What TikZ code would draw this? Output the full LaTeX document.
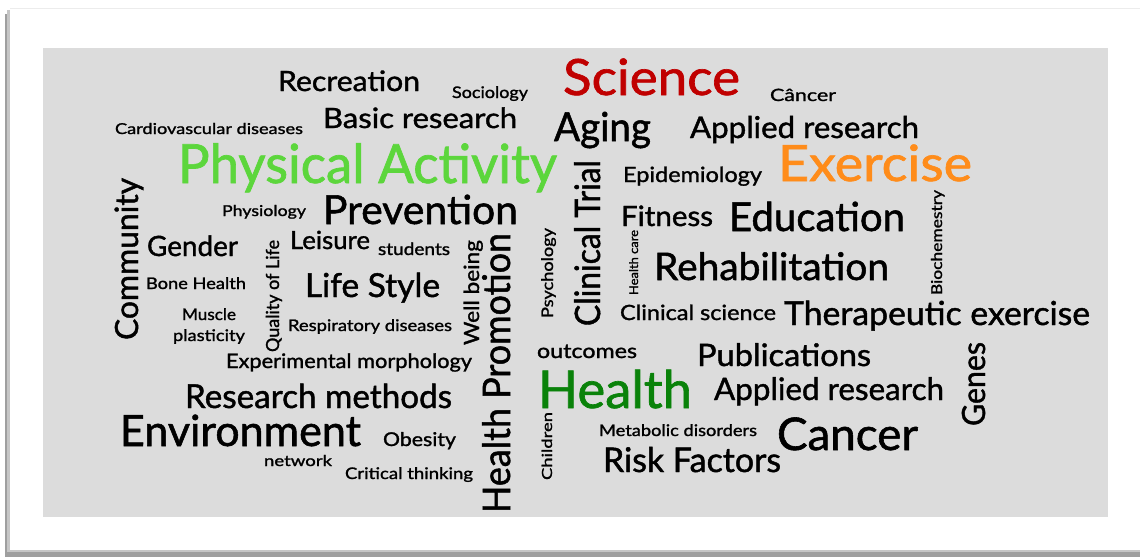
\documentclass[tikz,border=0pt]{standalone}
\usepackage{fontspec}
\setmainfont{Lato}[FakeBold=1.3]
\usepackage{graphicx}
\definecolor{bgcard}{HTML}{DCDCDC}
\definecolor{scired}{HTML}{C00000}
\definecolor{pagreen}{HTML}{5CD63C}
\definecolor{exorange}{HTML}{FF8C1A}
\definecolor{hgreen}{HTML}{0A820A}
\definecolor{ink}{HTML}{000000}
\newcommand\wcw[3]{\resizebox{#1pt}{\height}{\fontsize{#2}{#2}\selectfont #3}}
\tikzset{
  wc/.style={inner sep=0pt, outer sep=0pt, text=ink, anchor=base west},
  wv/.style={wc, rotate=90},
}
\begin{document}
\begin{tikzpicture}[x=1pt,y=-1pt]
\useasboundingbox (0,0) rectangle (1140,557);
% card with shadow
\fill[gray!75] (5,14) rectangle (1140,557);
\fill[gray!45] (7,10) rectangle (1140,552);
\fill[white] (10,8) rectangle (1140,550);
\draw[gray!15, line width=1pt] (10,8) -- (1140,8);
\fill[bgcard] (43,48) rectangle (1108,517);
% words
\node[wc] (recreation) at (278,91) {\wcw{142}{28}{Recreation}};
\node[wc] (sociology) at (452,98) {\wcw{76}{16}{Sociology}};
\node[wc, text=scired] (science) at (563,95) {\wcw{177}{50}{Science}};
\node[wc] (cancer1) at (770,101) {\wcw{66}{17}{Câncer}};
\node[wc] (cardio) at (115,134) {\wcw{188}{15}{Cardiovascular diseases}};
\node[wc] (basic) at (323,128) {\wcw{194}{28}{Basic research}};
\node[wc] (aging) at (554,141) {\wcw{97}{40}{Aging}};
\node[wc] (applied1) at (690,138) {\wcw{229}{30}{Applied research}};
\node[wc, text=pagreen] (pa) at (178,183) {\wcw{379}{54}{Physical Activity}};
\node[wc, text=exorange] (exercise) at (778,181) {\wcw{194}{50}{Exercise}};
\node[wc] (epid) at (623,182) {\wcw{139}{21}{Epidemiology}};
\node[wc] (physio) at (222,216) {\wcw{84}{15}{Physiology}};
\node[wc] (prevention) at (323,224) {\wcw{195}{40}{Prevention}};
\node[wc] (fitness) at (621,226) {\wcw{92}{28}{Fitness}};
\node[wc] (education) at (729,231) {\wcw{176}{40}{Education}};
\node[wv] (community) at (138,340) {\wcw{162}{32}{Community}};
\node[wc] (gender) at (147,256) {\wcw{91}{28}{Gender}};
\node[wv] (quality) at (279,352) {\wcw{112}{18}{Quality of Life}};
\node[wc] (leisure) at (290,249) {\wcw{80}{25}{Leisure}};
\node[wc] (students) at (378,255) {\wcw{72}{17}{students}};
\node[wv] (wellbeing) at (479,345) {\wcw{105}{21}{Well being}};
\node[wv] (hp) at (510,513) {\wcw{280}{38}{Health Promotion}};
\node[wv] (psych) at (553,318) {\wcw{90}{16}{Psychology}};
\node[wv] (clinical) at (600,326) {\wcw{166}{35}{Clinical Trial}};
\node[wv] (healthcare) at (638,295) {\wcw{65}{12}{Health care}};
\node[wv] (biochem) at (942,295) {\wcw{105}{15}{Biochemestry}};
\node[wc] (bone) at (146,289) {\wcw{100}{16}{Bone Health}};
\node[wc] (lifestyle) at (305,297) {\wcw{135}{33}{Life Style}};
\node[wc] (rehab) at (654,280) {\wcw{235}{38}{Rehabilitation}};
\node[wc] (muscle) at (182,320) {\wcw{54}{16}{Muscle}};
\node[wc] (plasticity) at (173,341) {\wcw{72}{16}{plasticity}};
\node[wc] (resp) at (288,331) {\wcw{164}{16}{Respiratory diseases}};
\node[wc] (clinsci) at (620,320) {\wcw{156}{21}{Clinical science}};
\node[wc] (therap) at (784,325) {\wcw{306}{33}{Therapeutic exercise}};
\node[wc] (expmorph) at (226,368) {\wcw{246}{20}{Experimental morphology}};
\node[wc] (outcomes) at (537,358) {\wcw{100}{20}{outcomes}};
\node[wc] (publications) at (697,366) {\wcw{174}{31}{Publications}};
\node[wv] (genes) at (985,426) {\wcw{84}{32}{Genes}};
\node[wc] (resmeth) at (185,408) {\wcw{267}{33}{Research methods}};
\node[wc, text=hgreen] (health) at (538,408) {\wcw{154}{52}{Health}};
\node[wc] (applied2) at (714,400) {\wcw{230}{31}{Applied research}};
\node[wc] (environment) at (120,446) {\wcw{241}{43}{Environment}};
\node[wc] (obesity) at (383,446) {\wcw{73}{19}{Obesity}};
\node[wv] (children) at (552,480) {\wcw{68}{14}{Children}};
\node[wc] (metabolic) at (599,436) {\wcw{158}{16}{Metabolic disorders}};
\node[wc] (cancer2) at (777,450) {\wcw{141}{45}{Cancer}};
\node[wc] (network) at (264,466) {\wcw{68}{15}{network}};
\node[wc] (critical) at (345,479) {\wcw{128}{16}{Critical thinking}};
\node[wc] (risk) at (603,472) {\wcw{178}{34}{Risk Factors}};
\end{tikzpicture}
\end{document}
